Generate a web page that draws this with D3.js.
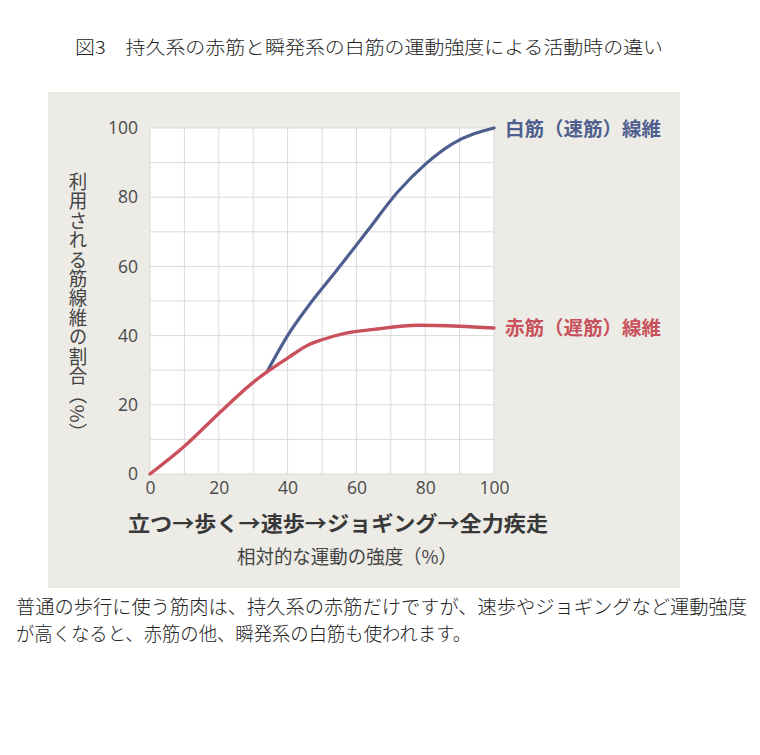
<!DOCTYPE html>
<html><head><meta charset="utf-8">
<script src="https://cdn.jsdelivr.net/npm/d3@7"></script>
<style>
body{margin:0;background:#fff;}
svg{display:block;}
</style></head>
<body>
<svg id="c" width="760" height="755"></svg>
<script>
const xTicks = [0,20,40,60,80,100];
const yTicks = [0,20,40,60,80,100];
const gridVals = [0,10,20,30,40,50,60,70,80,90,100];
const redX = [0,10,20,30,34,40,46,50,57,65,78,90,100];
const redY = [0,8,17.5,26.5,29.5,33.5,37.3,38.8,40.7,41.8,43,42.7,42.2];
const blueX = [34,40,46,54,63,72,80,88,100];
const blueY = [29.5,40,48.5,58.5,70,81.5,89.5,95.5,100];
const title = "図3　持久系の赤筋と瞬発系の白筋の運動強度による活動時の違い";
const whiteLabel = "白筋（速筋）線維";
const redLabel = "赤筋（遅筋）線維";
const yLabel = "利用される筋線維の割合（%）";
const activities = "立つ→歩く→速歩→ジョギング→全力疾走";
const xLabel = "相対的な運動の強度（%）";
const caption1 = "普通の歩行に使う筋肉は、持久系の赤筋だけですが、速歩やジョギングなど運動強度";
const caption2 = "が高くなると、赤筋の他、瞬発系の白筋も使われます。";

const svg = d3.select("#c");
const serif = "'Noto Sans CJK JP', sans-serif";
const sans = "'Noto Sans CJK JP', 'Noto Sans', sans-serif";

// paper background
svg.append("rect").attr("x",48).attr("y",92).attr("width",632).attr("height",496).attr("fill","#ecebe6");

const x = d3.scaleLinear().domain([0,100]).range([150,494]);
const y = d3.scaleLinear().domain([0,100]).range([474,128]);

// plot area
svg.append("rect").attr("x",x(0)).attr("y",y(100)).attr("width",x(100)-x(0)).attr("height",y(0)-y(100)).attr("fill","#ffffff");
const g = svg.append("g");
g.selectAll(".gx").data(gridVals).join("line")
 .attr("x1",d=>x(d)).attr("x2",d=>x(d)).attr("y1",y(0)).attr("y2",y(100))
 .attr("stroke","#dadada").attr("stroke-width",1);
g.selectAll(".gy").data(gridVals).join("line")
 .attr("y1",d=>y(d)).attr("y2",d=>y(d)).attr("x1",x(0)).attr("x2",x(100))
 .attr("stroke","#dadada").attr("stroke-width",1);

// axes tick labels via d3 axes
const yAxis = svg.append("g").attr("transform",`translate(${x(0)},0)`)
 .call(d3.axisLeft(y).tickValues(yTicks).tickSize(0).tickPadding(12));
const xAxis = svg.append("g").attr("transform",`translate(0,${y(0)})`)
 .call(d3.axisBottom(x).tickValues(xTicks).tickSize(0).tickPadding(8));
[yAxis,xAxis].forEach(a=>{
  a.select(".domain").remove();
  a.selectAll("text").attr("font-family","'Open Sans', sans-serif").attr("font-size",17.5).attr("fill","#4a4a4a");
});

const line = d3.line().x(d=>x(d[0])).y(d=>y(d[1])).curve(d3.curveMonotoneX);
svg.append("path").datum(blueX.map((v,i)=>[v,blueY[i]])).attr("d",line)
 .attr("fill","none").attr("stroke","#4e5f8f").attr("stroke-width",3.2).attr("stroke-linecap","round");
svg.append("path").datum(redX.map((v,i)=>[v,redY[i]])).attr("d",line)
 .attr("fill","none").attr("stroke","#c9515c").attr("stroke-width",3.4).attr("stroke-linecap","round");

// series labels
svg.append("text").attr("x",505).attr("y",y(blueY[blueY.length-1])+8).text(whiteLabel)
 .attr("font-family",sans).attr("font-weight","bold").attr("font-size",19).attr("fill","#4e5f8f")
 .attr("textLength",156).attr("lengthAdjust","spacingAndGlyphs");
svg.append("text").attr("x",505).attr("y",y(redY[redY.length-1])+7).text(redLabel)
 .attr("font-family",sans).attr("font-weight","bold").attr("font-size",19).attr("fill","#c9515c")
 .attr("textLength",156).attr("lengthAdjust","spacingAndGlyphs");

// y label vertical
svg.append("text").attr("x",78).attr("y",172).text(yLabel)
 .attr("font-family",sans).attr("font-size",18.5).attr("fill","#444")
 .style("writing-mode","vertical-rl").attr("textLength",270).attr("lengthAdjust","spacingAndGlyphs");

// activities
svg.append("text").attr("x",128).attr("y",531).text(activities)
 .attr("font-family",sans).attr("font-weight","bold").attr("font-size",21).attr("fill","#383838")
 .attr("textLength",420).attr("lengthAdjust","spacingAndGlyphs");
svg.append("text").attr("x",237).attr("y",564).text(xLabel)
 .attr("font-family",sans).attr("font-size",19).attr("fill","#444")
 .attr("textLength",220).attr("lengthAdjust","spacingAndGlyphs");

// title
svg.append("text").attr("x",75).attr("y",54).text(title)
 .attr("font-family",serif).attr("font-weight",300).attr("font-size",18).attr("fill","#222")
 .attr("textLength",588).attr("lengthAdjust","spacingAndGlyphs");

// caption
svg.append("text").attr("x",16).attr("y",614).text(caption1)
 .attr("font-family",serif).attr("font-weight",300).attr("font-size",19).attr("fill","#222")
 .attr("textLength",731).attr("lengthAdjust","spacingAndGlyphs");
svg.append("text").attr("x",16).attr("y",641).text(caption2)
 .attr("font-family",serif).attr("font-weight",300).attr("font-size",19).attr("fill","#222")
 .attr("textLength",455).attr("lengthAdjust","spacingAndGlyphs");
</script>
</body></html>
